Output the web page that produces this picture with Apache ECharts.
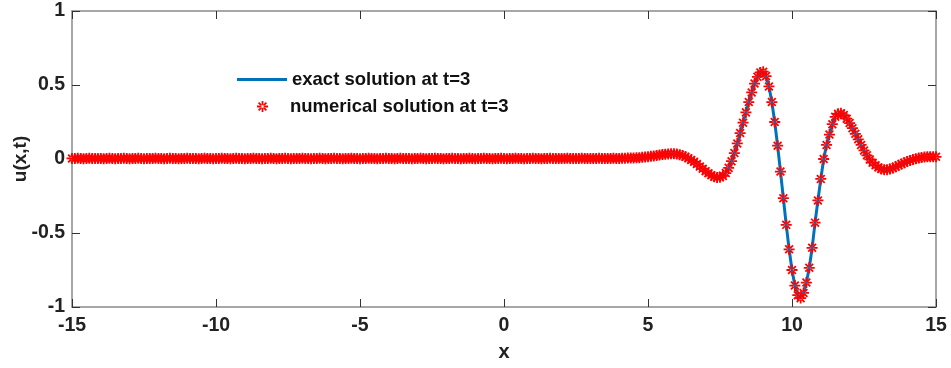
<!DOCTYPE html>
<html>
<head>
<meta charset="utf-8">
<script src="https://cdn.jsdelivr.net/npm/echarts@6/dist/echarts.min.js"></script>
<style>
html,body{margin:0;padding:0;background:#fff;}
#chart{width:951px;height:368px;}
</style>
</head>
<body>
<div id="chart"></div>
<script>
// Sampling grid
const xStart = -15;
const xStep = 0.1;

// u(x,t) at t=3, x = -15 ... 3.9 (flat part)
const uFlat = [
  0.004,0.003,0.005,0.004,0.002,0.003,0.005,0.004,0.003,0.004,
  0.003,0.002,0.004,0.005,0.003,0.002,0.003,0.004,0.005,0.003,
  0.002,0.004,0.003,0.005,0.004,0.002,0.003,0.004,0.003,0.005,
  0.004,0.003,0.002,0.004,0.005,0.003,0.004,0.002,0.003,0.004,
  0.005,0.003,0.004,0.003,0.002,0.004,0.005,0.004,0.003,0.002,
  0.003,0.004,0.005,0.003,0.004,0.002,0.003,0.005,0.004,0.003,
  0.002,0.003,0.004,0.005,0.004,0.003,0.002,0.004,0.003,0.005,
  0.004,0.002,0.003,0.004,0.005,0.003,0.002,0.004,0.003,0.004,
  0.005,0.003,0.004,0.002,0.003,0.004,0.005,0.003,0.002,0.004,
  0.003,0.005,0.004,0.003,0.002,0.003,0.004,0.005,0.004,0.003,
  0.002,0.004,0.003,0.005,0.004,0.003,0.002,0.003,0.004,0.005,
  0.003,0.004,0.002,0.003,0.005,0.004,0.003,0.004,0.002,0.003,
  0.004,0.005,0.003,0.002,0.004,0.003,0.005,0.004,0.003,0.002,
  0.003,0.004,0.005,0.004,0.003,0.002,0.004,0.003,0.005,0.004,
  0.002,0.003,0.004,0.005,0.003,0.004,0.002,0.003,0.004,0.005,
  0.003,0.002,0.004,0.003,0.005,0.004,0.003,0.002,0.003,0.004,
  0.005,0.004,0.003,0.002,0.004,0.003,0.005,0.004,0.003,0.004,
  0.003,0.004,0.005,0.003,0.004,0.003,0.004,0.005,0.004,0.003,
  0.004,0.003,0.004,0.005,0.004,0.003,0.004,0.004,0.005,0.004
];

// u(x,t) at t=3, x = 4.0 ... 15.0 (wave packet)
const uWave = [
  0.004,0.005,0.005,0.006,0.006,0.007,0.008,0.009,0.011,0.013,
  0.015,0.018,0.021,0.024,0.027,0.030,0.032,0.034,0.035,0.035,
  0.033,0.029,0.023,0.015,0.005,-0.006,-0.019,-0.034,-0.050,-0.066,
  -0.082,-0.097,-0.110,-0.120,-0.125,-0.123,-0.114,-0.095,-0.060,-0.015,
  0.040,0.105,0.175,0.245,0.315,0.385,0.450,0.510,0.555,0.585,
  0.590,0.560,0.490,0.385,0.250,0.090,-0.085,-0.265,-0.445,-0.610,
  -0.750,-0.855,-0.920,-0.940,-0.905,-0.835,-0.735,-0.600,-0.430,-0.280,
  -0.135,0.000,0.095,0.165,0.235,0.285,0.305,0.309,0.297,0.272,
  0.243,0.208,0.170,0.133,0.095,0.058,0.025,-0.003,-0.025,-0.043,
  -0.058,-0.068,-0.073,-0.072,-0.068,-0.061,-0.052,-0.043,-0.034,-0.025,
  -0.017,-0.010,-0.004,0.002,0.006,0.010,0.013,0.015,0.016,0.016,
  0.015
];

const exactValues = uFlat.concat(uWave);
const numericalValues = uFlat.concat(uWave);

const xTicks = [-15, -10, -5, 0, 5, 10, 15];
const yTicks = [-1, -0.5, 0, 0.5, 1];

const seriesNames = ['exact solution at t=3', 'numerical solution at t=3'];

const toPairs = vals => vals.map((v, i) => [Math.round((xStart + i * xStep) * 10) / 10, v]);

const starPath = 'path://M-0.8,-5L0.8,-5L0.8,5L-0.8,5Z M-5,-0.8L5,-0.8L5,0.8L-5,0.8Z M-4.1,-2.97L2.97,4.1L4.1,2.97L-2.97,-4.1Z M-2.97,4.1L4.1,-2.97L2.97,-4.1L-4.1,2.97Z';

const font = "'Liberation Sans', Arial, sans-serif";
const axisColor = '#8a8a8a';

const chart = echarts.init(document.getElementById('chart'), null, {renderer: 'canvas'});

const baseAxisLine = {show: true, onZero: false, lineStyle: {color: axisColor, width: 1.5}};
const tickStyle = {show: true, inside: true, length: 8, lineStyle: {color: '#333', width: 1}};

chart.setOption({
  animation: false,
  backgroundColor: '#fff',
  grid: {left: 72, right: 15, top: 11, bottom: 61, containLabel: false, outerBoundsMode: 'none'},
  legend: [
    {
      data: [seriesNames[0]],
      left: 237, top: 70, padding: 0,
      itemWidth: 50, itemHeight: 3, icon: 'rect',
      textStyle: {fontSize: 18.5, fontWeight: 'bold', color: '#111', fontFamily: font}
    },
    {
      data: [seriesNames[1]],
      left: 257, top: 97, padding: 0,
      itemWidth: 11, itemHeight: 11, icon: starPath,
      textStyle: {fontSize: 18.5, fontWeight: 'bold', color: '#111', fontFamily: font, padding: [0, 0, 0, 17]}
    }
  ],
  xAxis: [
    {
      type: 'value', min: xTicks[0], max: xTicks[xTicks.length - 1], interval: 5,
      position: 'bottom',
      name: 'x', nameLocation: 'middle', nameGap: 35, nameMoveOverlap: false,
      nameTextStyle: {fontSize: 20, fontWeight: 'bold', color: '#222', fontFamily: font},
      axisLine: baseAxisLine,
      axisTick: tickStyle,
      axisLabel: {fontSize: 19.5, fontWeight: 'bold', color: '#222', fontFamily: font, margin: 9},
      splitLine: {show: false}
    },
    {
      type: 'value', min: xTicks[0], max: xTicks[xTicks.length - 1], interval: 5,
      position: 'top',
      axisLine: baseAxisLine,
      axisTick: tickStyle,
      axisLabel: {show: false},
      splitLine: {show: false}
    }
  ],
  yAxis: [
    {
      type: 'value', min: yTicks[0], max: yTicks[yTicks.length - 1], interval: 0.5,
      position: 'left',
      name: 'u(x,t)', nameLocation: 'middle', nameGap: 42, nameRotate: 90, nameMoveOverlap: false,
      nameTextStyle: {fontSize: 19, fontWeight: 'bold', color: '#222', fontFamily: font},
      axisLine: baseAxisLine,
      axisTick: tickStyle,
      axisLabel: {fontSize: 19.5, fontWeight: 'bold', color: '#222', fontFamily: font, margin: 7},
      splitLine: {show: false}
    },
    {
      type: 'value', min: yTicks[0], max: yTicks[yTicks.length - 1], interval: 0.5,
      position: 'right',
      axisLine: baseAxisLine,
      axisTick: tickStyle,
      axisLabel: {show: false},
      splitLine: {show: false}
    }
  ],
  series: [
    {
      name: seriesNames[0], type: 'line', xAxisIndex: 0, yAxisIndex: 0,
      data: toPairs(exactValues),
      showSymbol: false, symbol: 'none',
      itemStyle: {color: '#0072BD'},
      lineStyle: {color: '#0072BD', width: 3},
      z: 2
    },
    {
      name: seriesNames[1], type: 'scatter', xAxisIndex: 0, yAxisIndex: 0,
      data: toPairs(numericalValues),
      symbol: starPath, symbolSize: 11,
      itemStyle: {color: '#ff0000', opacity: 1},
      z: 3
    }
  ]
});
</script>
</body>
</html>
